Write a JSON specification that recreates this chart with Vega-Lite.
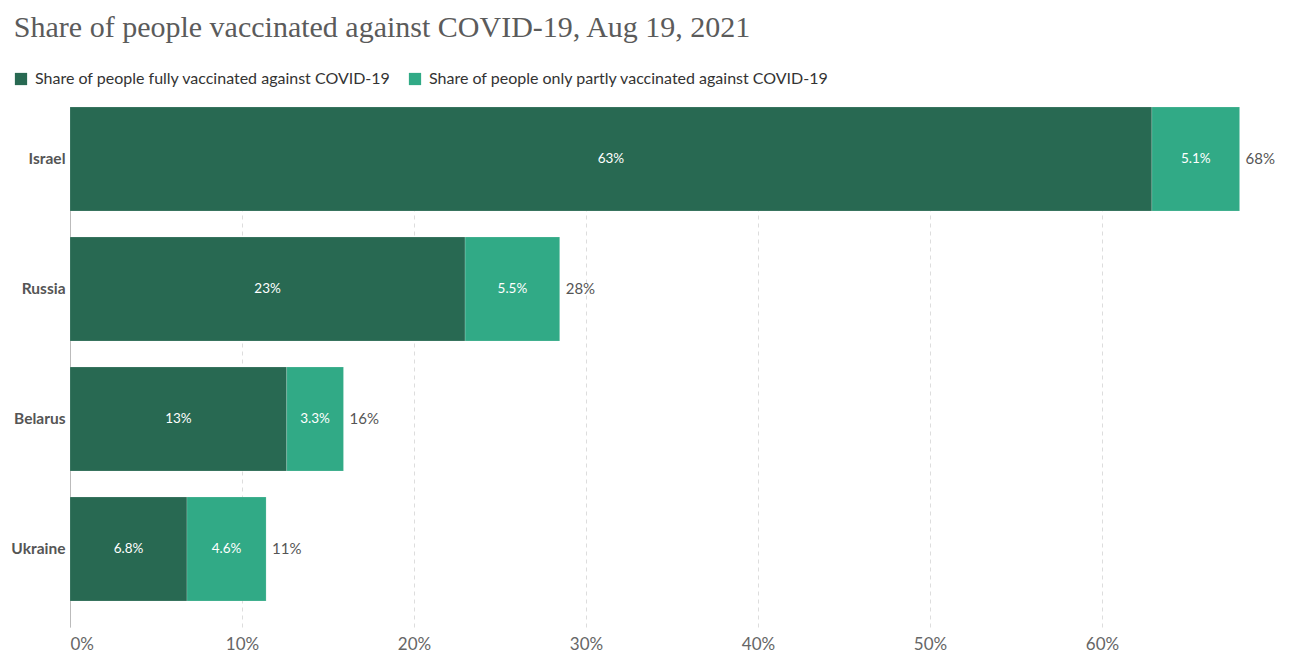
{
  "$schema": "https://vega.github.io/schema/vega-lite/v6.json",
  "width": 1204,
  "height": 520,
  "padding": {"left": 10, "top": 13, "right": 25, "bottom": 0},
  "background": "white",
  "title": {
    "text": "Share of people vaccinated against COVID-19, Aug 19, 2021",
    "anchor": "start",
    "frame": "bounds",
    "font": "Liberation Serif",
    "fontSize": 30,
    "fontWeight": "normal",
    "color": "#5b5b5b",
    "dx": 3,
    "offset": 28
  },
  "config": {
    "view": {"stroke": null},
    "font": "Lato"
  },
  "data": {
    "values": [
      {"country": "Israel", "type": "Share of people fully vaccinated against COVID-19", "ord": 1, "value": 62.9},
      {"country": "Israel", "type": "Share of people only partly vaccinated against COVID-19", "ord": 2, "value": 5.1},
      {"country": "Russia", "type": "Share of people fully vaccinated against COVID-19", "ord": 1, "value": 22.97},
      {"country": "Russia", "type": "Share of people only partly vaccinated against COVID-19", "ord": 2, "value": 5.5},
      {"country": "Belarus", "type": "Share of people fully vaccinated against COVID-19", "ord": 1, "value": 12.6},
      {"country": "Belarus", "type": "Share of people only partly vaccinated against COVID-19", "ord": 2, "value": 3.3},
      {"country": "Ukraine", "type": "Share of people fully vaccinated against COVID-19", "ord": 1, "value": 6.8},
      {"country": "Ukraine", "type": "Share of people only partly vaccinated against COVID-19", "ord": 2, "value": 4.6}
    ]
  },
  "encoding": {
    "y": {
      "field": "country",
      "type": "nominal",
      "sort": ["Israel", "Russia", "Belarus", "Ukraine"],
      "title": null,
      "scale": {"paddingInner": 0.2, "paddingOuter": 0.1, "align": 0},
      "axis": {
        "domain": true,
        "domainColor": "#bbbbbb",
        "ticks": false,
        "grid": false,
        "labelFontWeight": "bold",
        "labelFontSize": 15.5,
        "labelColor": "#555555",
        "labelPadding": 5,
        "minExtent": 55,
        "maxExtent": 55
      }
    }
  },
  "layer": [
    {
      "transform": [
        {"stack": "value", "groupby": ["country"], "sort": [{"field": "ord"}], "as": ["x0", "x1"]}
      ],
      "mark": {"type": "bar", "stroke": "white", "strokeWidth": 0.4, "strokeOpacity": 0.4},
      "encoding": {
        "x": {
          "field": "x0",
          "type": "quantitative",
          "title": null,
          "scale": {"domain": [0, 70], "nice": false},
          "axis": {
            "values": [0, 10, 20, 30, 40, 50, 60],
            "labelExpr": "datum.value + '%'",
            "domain": false,
            "ticks": false,
            "grid": true,
            "gridColor": "#dddddd",
            "gridDash": [4, 4],
            "labelFontSize": 17,
            "labelColor": "#666666",
            "labelPadding": 9
          }
        },
        "x2": {"field": "x1"},
        "color": {
          "field": "type",
          "type": "nominal",
          "sort": ["Share of people fully vaccinated against COVID-19", "Share of people only partly vaccinated against COVID-19"],
          "scale": {"range": ["#286952", "#31aa86"]},
          "legend": {
            "title": null,
            "orient": "none",
            "direction": "horizontal",
            "legendX": -57,
            "legendY": -36,
            "symbolType": "square",
            "symbolSize": 150,
            "symbolStrokeWidth": 0,
            "labelFontSize": 16,
            "labelColor": "#333333",
            "labelLimit": 500,
            "columnPadding": 16,
            "labelOffset": 6
          }
        }
      }
    },
    {
      "transform": [
        {"stack": "value", "groupby": ["country"], "sort": [{"field": "ord"}], "as": ["x0", "x1"]},
        {"calculate": "(datum.x0 + datum.x1) / 2", "as": "mid"},
        {"calculate": "format(datum.value, '.2r') + '%'", "as": "label"}
      ],
      "mark": {"type": "text", "color": "white", "fontSize": 13.5, "align": "center", "baseline": "middle"},
      "encoding": {
        "x": {"field": "mid", "type": "quantitative"},
        "text": {"field": "label"}
      }
    },
    {
      "transform": [
        {"aggregate": [{"op": "sum", "field": "value", "as": "total"}], "groupby": ["country"]},
        {"calculate": "format(datum.total, '.2r') + '%'", "as": "label"}
      ],
      "mark": {"type": "text", "color": "#555555", "fontSize": 15, "align": "left", "baseline": "middle", "dx": 6},
      "encoding": {
        "x": {"field": "total", "type": "quantitative"},
        "text": {"field": "label"}
      }
    }
  ]
}
